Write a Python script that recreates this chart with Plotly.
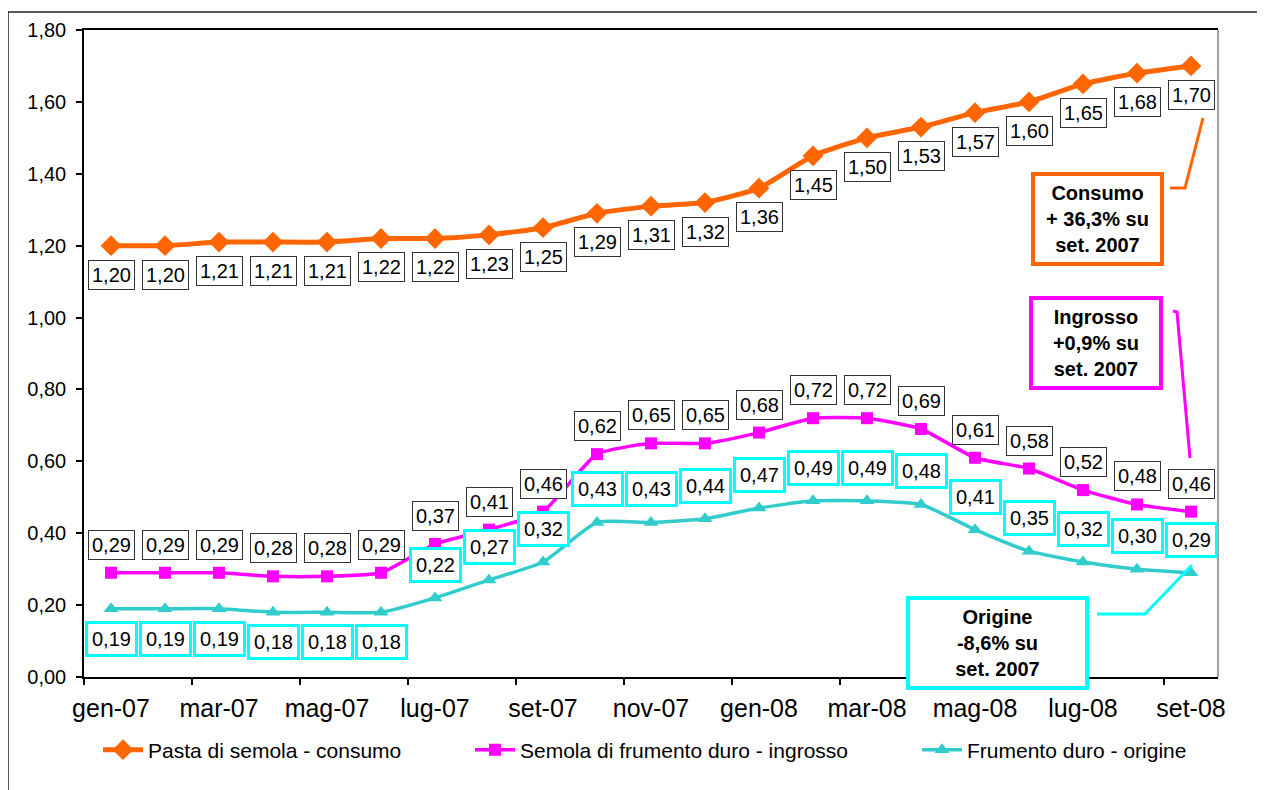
import plotly.graph_objects as go

months = ["gen-07","feb-07","mar-07","apr-07","mag-07","giu-07","lug-07","ago-07","set-07","ott-07",
          "nov-07","dic-07","gen-08","feb-08","mar-08","apr-08","mag-08","giu-08","lug-08","ago-08","set-08"]
consumo = [1.20,1.20,1.21,1.21,1.21,1.22,1.22,1.23,1.25,1.29,1.31,1.32,1.36,1.45,1.50,1.53,1.57,1.60,1.65,1.68,1.70]
ingrosso = [0.29,0.29,0.29,0.28,0.28,0.29,0.37,0.41,0.46,0.62,0.65,0.65,0.68,0.72,0.72,0.69,0.61,0.58,0.52,0.48,0.46]
origine = [0.19,0.19,0.19,0.18,0.18,0.18,0.22,0.27,0.32,0.43,0.43,0.44,0.47,0.49,0.49,0.48,0.41,0.35,0.32,0.30,0.29]

series_names = ["Pasta di semola - consumo", "Semola di frumento duro - ingrosso", "Frumento duro - origine"]
callouts = ["<b>Consumo<br>+ 36,3% su<br>set. 2007</b>",
            "<b>Ingrosso<br>+0,9% su<br>set. 2007</b>",
            "<b>Origine<br>-8,6% su<br>set. 2007</b>"]

ORANGE = "#FF6600"
MAGENTA = "#FF00FF"
TEAL = "#33CCCC"
CYAN = "#00FFFF"
FONT = "Liberation Sans, Arial, sans-serif"

x = list(range(len(months)))

# reference pixel geometry (page coords); the page body adds an 8px offset
OFF = 8
L, R, T, B = 84, 1218, 30, 677
W, H = 1265, 790
def px(xp):
    return (xp - L) / (R - L)
def py(yp):
    return (B - yp) / (B - T)

fig = go.Figure()
fig.add_trace(go.Scatter(x=x, y=consumo, name=series_names[0], mode="lines+markers",
                         line=dict(color=ORANGE, width=5, shape="spline", smoothing=0.5),
                         marker=dict(symbol="diamond", size=16, color=ORANGE), legend="legend"))
fig.add_trace(go.Scatter(x=x, y=ingrosso, name=series_names[1], mode="lines+markers",
                         line=dict(color=MAGENTA, width=3.5, shape="spline", smoothing=0.5),
                         marker=dict(symbol="square", size=12, color=MAGENTA), legend="legend2"))
fig.add_trace(go.Scatter(x=x, y=origine, name=series_names[2], mode="lines+markers",
                         line=dict(color=TEAL, width=3.5, shape="spline", smoothing=0.5),
                         marker=dict(symbol="triangle-up", size=13, color=TEAL), legend="legend3"))

def fmt(v):
    return f"{v:.2f}".replace(".", ",")

dfont = dict(family=FONT, size=20, color="black")
annotations = []
for i, v in enumerate(consumo):
    annotations.append(dict(x=i, y=v, text=fmt(v), showarrow=False, yshift=-29,
                            font=dfont, bgcolor="white", bordercolor="#333333",
                            borderwidth=1, borderpad=3))
for i, v in enumerate(ingrosso):
    annotations.append(dict(x=i, y=v, text=fmt(v), showarrow=False, yshift=28,
                            font=dfont, bgcolor="white", bordercolor="#333333",
                            borderwidth=1, borderpad=3))
for i, v in enumerate(origine):
    ys = -30 if i < 6 else 33
    annotations.append(dict(x=i, y=v, text=fmt(v), showarrow=False, yshift=ys,
                            font=dfont, bgcolor="white", bordercolor=CYAN,
                            borderwidth=3, borderpad=4))

# callout boxes
cfont = dict(family=FONT, size=20, color="black")
for cx, cy, txt, col, w in [(1097, 219, callouts[0], ORANGE, 113),
                            (1096, 343, callouts[1], MAGENTA, 114),
                            (997, 643, callouts[2], CYAN, 163)]:
    annotations.append(dict(xref="paper", yref="paper", x=px(cx), y=py(cy), text=txt,
                            xanchor="center", yanchor="middle", showarrow=False, font=cfont,
                            bgcolor="white", bordercolor=col, borderwidth=4, borderpad=6,
                            align="center", width=w))

def path(points):
    s = ""
    for k, (a, b) in enumerate(points):
        s += ("M" if k == 0 else " L") + f"{px(a)},{py(b)}"
    return s

shapes = [
    dict(type="path", xref="paper", yref="paper", path=path([(1170, 188), (1185, 188), (1203, 118)]),
         line=dict(color=ORANGE, width=3)),
    dict(type="path", xref="paper", yref="paper", path=path([(1173, 311), (1177, 312), (1190, 458)]),
         line=dict(color=MAGENTA, width=3)),
    dict(type="path", xref="paper", yref="paper", path=path([(1097, 614), (1145, 614), (1192, 565)]),
         line=dict(color=CYAN, width=3)),
    dict(type="line", xref="paper", yref="paper", x0=1, x1=1, y0=0, y1=1,
         line=dict(color="#808080", width=1.5)),
    dict(type="line", xref="paper", yref="paper", x0=px(8), x1=px(W + 5), y0=py(12), y1=py(12),
         line=dict(color="#222222", width=1.5)),
    dict(type="line", xref="paper", yref="paper", x0=px(8), x1=px(8), y0=py(12), y1=py(H + 5),
         line=dict(color="#222222", width=1.5)),
]

boundaries = [i - 0.5 for i in range(0, len(months) + 1, 2)]

lfont = dict(family=FONT, size=21, color="black")
def leg(xp):
    return dict(orientation="h", x=px(xp), y=py(750), xanchor="left", yanchor="middle",
                font=lfont, bgcolor="rgba(0,0,0,0)", itemwidth=40)

fig.update_layout(
    width=W - OFF, height=H - OFF,
    margin=dict(l=L - OFF, r=W - R, t=T - OFF, b=H - B),
    paper_bgcolor="white", plot_bgcolor="white",
    separators=",.",
    font=dict(family=FONT, color="black"),
    showlegend=True,
    legend=leg(98),
    legend2=leg(470),
    legend3=leg(917),
    annotations=annotations,
    shapes=shapes,
    xaxis=dict(range=[-0.5, len(months) - 0.5], tickmode="array",
               tickvals=x[::2], ticktext=months[::2], ticks="",
               tickfont=dict(family=FONT, size=25, color="black"),
               ticklabelstandoff=8,
               showline=True, linecolor="black", linewidth=1.5, mirror=True,
               showgrid=False, zeroline=False,
               minor=dict(tickmode="array", tickvals=boundaries, ticks="outside",
                          ticklen=6, tickcolor="black", tickwidth=1.5, showgrid=False)),
    yaxis=dict(range=[0, 1.8], dtick=0.2, tickformat=".2f", ticks="outside", ticklen=6,
               tickcolor="black", tickwidth=1.5, ticklabelstandoff=6,
               tickfont=dict(family=FONT, size=20, color="black"),
               showline=True, linecolor="black", linewidth=1.5,
               showgrid=False, zeroline=False),
)

fig.write_html("out.html")
